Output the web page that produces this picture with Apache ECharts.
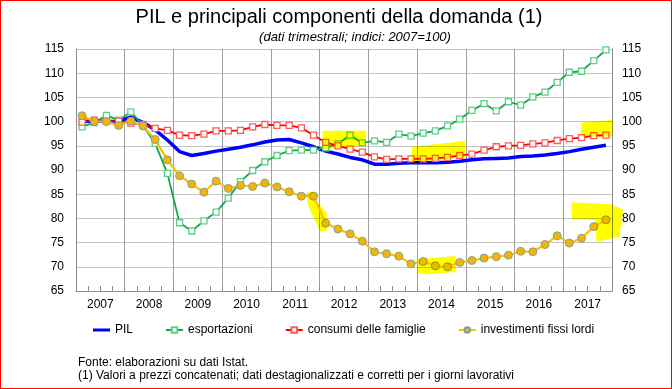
<!DOCTYPE html>
<html><head><meta charset="utf-8">
<script src="https://cdn.jsdelivr.net/npm/echarts@6/dist/echarts.min.js"></script>
<style>
html,body{margin:0;padding:0;background:#fff}
#wrap{position:relative;width:672px;height:389px}
#c{width:672px;height:389px}
#frame{position:absolute;left:0;top:0;width:672px;height:389px;box-sizing:border-box;border:1px solid #ff0000;pointer-events:none}
</style></head>
<body><div id="wrap"><div id="c"></div><div id="frame"></div></div>
<script>
// ---- data ----
const years = ['2007','2008','2009','2010','2011','2012','2013','2014','2015','2016','2017'];
const yTicks = {min: 65, max: 115, step: 5};
const pil = [100.0,100.1,100.0,100.0, 101.0,99.8,98.3,96.2, 93.8,93.0,93.4,93.9, 94.3,94.7,95.2,95.8,
  96.2,96.3,95.6,94.8, 93.9,93.3,92.6,92.1, 91.2,91.2,91.4,91.5, 91.5,91.5,91.6,91.8,
  92.1,92.3,92.4,92.5, 92.8,92.9,93.1,93.4, 93.8,94.3,94.7,95.1];
const esportazioni = [98.9,99.8,101.3,100.3, 102.0,99.2,95.5,89.3, 79.1,77.4,79.5,81.3, 84.2,87.6,89.9,91.7,
  93.0,94.0,94.1,94.1, 94.6,95.4,97.2,95.6, 96.0,95.7,97.4,97.0, 97.6,98.1,99.1,100.5,
  102.3,103.7,102.2,104.1, 103.4,105.1,106.1,108.1, 110.2,110.4,112.6,114.8];
const consumi = [99.9,100.3,100.05,100.1, 99.7,99.4,98.6,98.2, 97.2,97.1,97.4,98.1, 98.1,98.2,98.9,99.4,
  99.2,99.2,98.7,97.2, 95.7,95.0,94.3,93.7, 92.7,92.2,92.3,92.3, 92.3,92.4,92.6,93.0,
  93.3,94.1,94.8,95.0, 95.1,95.4,95.6,96.1, 96.5,96.7,97.1,97.2];
const investimenti = [101.2,100.05,100.0,99.2, 100.1,99.1,96.3,92.1, 88.8,87.1,85.4,87.7, 86.2,86.8,86.6,87.3,
  86.5,85.5,84.6,84.6, 79.0,77.8,76.8,75.3, 73.1,72.7,72.2,70.6, 71.1,70.2,70.0,70.9,
  71.3,71.8,72.1,72.4, 73.2,73.1,74.6,76.4, 74.9,75.9,78.3,79.7];
const seriesNames = ['PIL','esportazioni','consumi delle famiglie','investimenti fissi lordi'];
const titleText = 'PIL e principali componenti della domanda (1)';
const subtitleText = '(dati trimestrali; indici: 2007=100)';
const footer1 = 'Fonte: elaborazioni su dati Istat.';
const footer2 = '(1) Valori a prezzi concatenati; dati destagionalizzati e corretti per i giorni lavorativi';

// quarter categories
const quarters = [];
years.forEach(y => { for (let q = 1; q <= 4; q++) quarters.push(y + 'T' + q); });

// ---- layout ----
const G = {left: 76, top: 49, width: 536, height: 242};
const FONT = '"Liberation Sans", Arial, sans-serif';
// highlighter annotations in (quarter position, index value) space
const highlights = [
  [[20.25,98.1],[23.8,98.1],[23.8,95.0],[20.25,94.3]],
  [[27.56,94.8],[31.93,96.0],[31.93,92.75],[27.56,91.4]],
  [[41.5,99.8],[44.05,100.35],[44.05,96.9],[41.5,96.9]],
  [[18.96,85.5],[19.54,85.5],[19.76,83.45],[20.58,81.05],[20.58,77.4],[20.03,77.4],[19.48,80.35],[18.99,83.1]],
  [[28.05,71.55],[31.17,72.23],[31.17,68.99],[29.06,68.45],[28.05,68.66]],
  [[40.69,83.33],[43.97,82.91],[44.93,81.74],[44.6,76.22],[42.74,75.19],[42.6,79.67],[40.69,79.81]]
];
const qw = G.width / quarters.length;
const toPx = p => [G.left + p[0] * qw, G.top + (yTicks.max - p[1]) / (yTicks.max - yTicks.min) * G.height];

const chart = echarts.init(document.getElementById('c'), null, {renderer: 'canvas'});

const yAxisBase = {
  type: 'value', min: yTicks.min, max: yTicks.max, interval: yTicks.step,
  axisLine: {show: true, lineStyle: {color: '#8c8c8c', width: 1}},
  axisTick: {show: false},
  axisLabel: {color: '#000', fontSize: 12, fontFamily: FONT}
};

const option = {
  animation: false,
  backgroundColor: '#fff',
  grid: {left: G.left, top: G.top, width: G.width, height: G.height, containLabel: false},
  xAxis: [
    {type: 'category', data: quarters, boundaryGap: true, position: 'bottom',
     axisLine: {show: true, lineStyle: {color: '#8c8c8c', width: 1}},
     axisTick: {show: true, inside: true, length: 5, interval: 0, lineStyle: {color: '#8c8c8c'}},
     axisLabel: {show: false}, splitLine: {show: false}},
    {type: 'category', data: years, boundaryGap: true, position: 'bottom',
     axisLine: {show: false}, axisTick: {show: false},
     axisLabel: {show: true, interval: 0, color: '#000', fontSize: 12, fontFamily: FONT, margin: 8},
     splitLine: {show: true, interval: 0, lineStyle: {color: '#a0a0a0', width: 1}}}
  ],
  yAxis: [
    Object.assign({}, yAxisBase, {position: 'left',
      axisLabel: Object.assign({}, yAxisBase.axisLabel, {margin: 12}),
      splitLine: {show: true, lineStyle: {color: '#c4c4c4', width: 1}}}),
    Object.assign({}, yAxisBase, {position: 'right',
      axisLabel: Object.assign({}, yAxisBase.axisLabel, {margin: 10}),
      splitLine: {show: false}})
  ],
  legend: {
    left: 93, top: 324, padding: 0, itemGap: 32, itemWidth: 17, itemHeight: 7,
    data: [
      {name: seriesNames[0], icon: 'path://M0,0 L17,0 L17,3 L0,3 Z'},
      {name: seriesNames[1]},
      {name: seriesNames[2]},
      {name: seriesNames[3]}
    ],
    textStyle: {color: '#000', fontSize: 12, fontFamily: FONT}
  },
  series: [
    {name: seriesNames[0], type: 'line', data: pil, symbol: 'none', smooth: false,
     lineStyle: {color: '#0000ff', width: 3.5}, itemStyle: {color: '#0000ff'}, z: 3},
    {name: seriesNames[1], type: 'line', data: esportazioni, symbol: 'rect', symbolSize: 6, showAllSymbol: true,
     lineStyle: {color: '#13a84a', width: 1.8},
     itemStyle: {color: '#ffffff', borderColor: '#5ccf86', borderWidth: 1.3}, z: 4},
    {name: seriesNames[2], type: 'line', data: consumi, symbol: 'rect', symbolSize: 6, showAllSymbol: true,
     lineStyle: {color: '#ff0000', width: 1.8},
     itemStyle: {color: '#ffffff', borderColor: '#ff5a5a', borderWidth: 1.3}, z: 5},
    {name: seriesNames[3], type: 'line', data: investimenti, symbol: 'circle', symbolSize: 8, showAllSymbol: true,
     lineStyle: {color: '#ffc000', width: 2.2},
     itemStyle: {color: '#f5b400', borderColor: '#7fa2a6', borderWidth: 1}, z: 6}
  ],
  graphic: [
    {type: 'text', x: 339, y: 17, style: {text: titleText, font: '20px ' + FONT, fill: '#000',
      textAlign: 'center', textVerticalAlign: 'middle', verticalAlign: 'middle'}},
    {type: 'text', x: 355, y: 37, style: {text: subtitleText, font: 'italic 13px ' + FONT, fill: '#000',
      textAlign: 'center', textVerticalAlign: 'middle', verticalAlign: 'middle'}},
    {type: 'text', x: 78, y: 363, style: {text: footer1, font: '12px ' + FONT, fill: '#000',
      textAlign: 'left', textVerticalAlign: 'middle', verticalAlign: 'middle'}},
    {type: 'text', x: 78, y: 376, style: {text: footer2, font: '12px ' + FONT, fill: '#000',
      textAlign: 'left', textVerticalAlign: 'middle', verticalAlign: 'middle'}}
  ].concat(highlights.map(poly => ({
    type: 'polygon', z: 100, silent: true,
    shape: {points: poly.map(toPx)},
    style: {fill: '#ffff00', blend: 'multiply'}
  })))
};
chart.setOption(option);
</script>
</body></html>
